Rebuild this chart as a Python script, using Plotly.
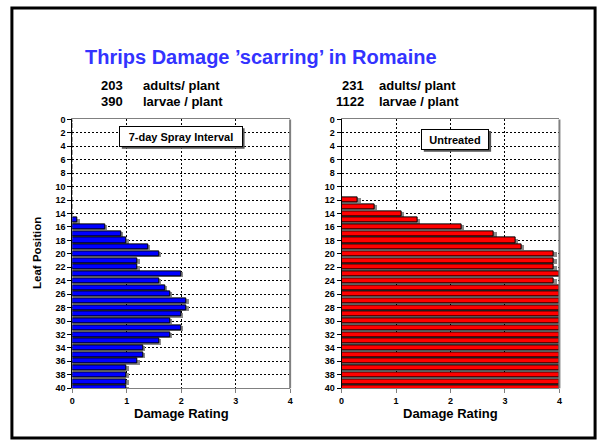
import plotly.graph_objects as go

# ---- data ----
leaf_positions = list(range(0, 41))
spray_7day = [0]*15 + [0.1, 0.6, 0.9, 1.0, 1.4, 1.6, 1.2, 1.2, 2.0, 1.6, 1.7, 1.8, 2.1, 2.1, 2.0,
                      1.8, 2.0, 1.8, 1.6, 1.3, 1.3, 1.2, 1.0, 1.0, 1.0, 1.0]
untreated = [0]*12 + [0.3, 0.6, 1.1, 1.4, 2.2, 2.8, 3.2, 3.3, 3.9, 3.9, 3.9, 4.0, 3.9,
                      4.0, 4.0, 4.0, 4.0, 4.0, 4.0, 4.0, 4.0, 4.0, 4.0, 4.0, 4.0, 4.0, 4.0, 4.0, 4.0]
y_ticks = list(range(0, 41, 2))
x_ticks = [0, 1, 2, 3, 4]
title_text = "Thrips Damage \u2019scarring\u2019 in Romaine"
left_counts = ["203", "390"]
right_counts = ["231", "1122"]
count_labels = ["adults/ plant", "larvae / plant"]
panel_labels = ["7-day Spray Interval", "Untreated"]

W, H = 606, 446
FONT = "Liberation Sans, Arial, sans-serif"
BAR_W = 0.75

def px(x):
    return x / W

def py(y):
    return 1 - y / H

fig = go.Figure()

for vals, color, xa, ya in [(spray_7day, "#0000ff", "x", "y"), (untreated, "#ff0000", "x2", "y2")]:
    # drop shadow
    fig.add_trace(go.Bar(x=[v + 0.04 if v > 0 else 0 for v in vals], y=leaf_positions, orientation="h",
                         width=BAR_W, offset=-BAR_W / 2 + 0.18,
                         marker=dict(color="#8a8a8a", line=dict(width=0)),
                         xaxis=xa, yaxis=ya, showlegend=False, hoverinfo="skip"))
    fig.add_trace(go.Bar(x=vals, y=leaf_positions, orientation="h", width=BAR_W, offset=-BAR_W / 2,
                         marker=dict(color=color, line=dict(color="black", width=1)),
                         xaxis=xa, yaxis=ya, showlegend=False))

xd1 = [px(70), px(290)]
xd2 = [px(342), px(562)]
yd = [py(392), py(117)]

tickfont = dict(family=FONT, size=9, color="black", weight="bold")
DASH = "2px,2px"

def xaxis_cfg(dom, anchor):
    return dict(domain=dom, anchor=anchor, range=[0, 4], tickvals=x_ticks,
                showgrid=True, gridcolor="black", griddash=DASH, gridwidth=1,
                zeroline=False, showline=True, linecolor="#808080", linewidth=1, mirror=True,
                ticks="outside", ticklen=4, tickcolor="#808080", tickfont=tickfont, fixedrange=True)

def yaxis_cfg(anchor):
    return dict(domain=yd, anchor=anchor, range=[40, 0], tickvals=y_ticks,
                showgrid=True, gridcolor="black", griddash=DASH, gridwidth=1,
                zeroline=False, showline=True, linecolor="black", linewidth=1,
                ticks="outside", ticklen=4, tickcolor="black", tickfont=tickfont, fixedrange=True)

fig.update_layout(
    width=W, height=H, margin=dict(l=0, r=0, t=0, b=0),
    paper_bgcolor="white", plot_bgcolor="white",
    xaxis=xaxis_cfg(xd1, "y"), yaxis=yaxis_cfg("x"),
    xaxis2=xaxis_cfg(xd2, "y2"), yaxis2=yaxis_cfg("x2"),
    barmode="overlay", bargap=0,
)

shapes = []
# outer slide frame
shapes.append(dict(type="rect", xref="paper", yref="paper", x0=px(9), x1=px(598), y0=py(443), y1=py(3),
                   line=dict(color="black", width=3)))
# right plot borders (gray)
for xr in ["x domain", "x2 domain"]:
    yr = "y domain" if xr == "x domain" else "y2 domain"
    shapes.append(dict(type="line", xref=xr, yref=yr, x0=1, x1=1, y0=0, y1=1,
                       line=dict(color="#808080", width=2)))
# label box shadows
shapes.append(dict(type="rect", xref="paper", yref="paper", x0=px(120), x1=px(244), y0=py(147), y1=py(126),
                   fillcolor="#555555", line=dict(width=0), layer="above"))
shapes.append(dict(type="rect", xref="paper", yref="paper", x0=px(425), x1=px(493), y0=py(150), y1=py(129),
                   fillcolor="#555555", line=dict(width=0), layer="above"))
fig.update_layout(shapes=shapes)

ann = []
ann.append(dict(text="<b>" + title_text + "</b>", x=px(261), y=py(53), xref="paper", yref="paper",
                showarrow=False, font=dict(family=FONT, size=20, color="#3333ff"), xanchor="center", yanchor="middle"))
for i, (n, lab) in enumerate(zip(left_counts, count_labels)):
    yy = py(82 + 17 * i)
    ann.append(dict(text="<b>" + n + "</b>", x=px(123), y=yy, xref="paper", yref="paper", showarrow=False,
                    xanchor="right", yanchor="middle", font=dict(family=FONT, size=13, color="black")))
    ann.append(dict(text="<b>" + lab + "</b>", x=px(139), y=yy, xref="paper", yref="paper", showarrow=False,
                    xanchor="left", yanchor="middle", font=dict(family=FONT, size=13, color="black")))
for i, (n, lab) in enumerate(zip(right_counts, count_labels)):
    yy = py(82 + 17 * i)
    ann.append(dict(text="<b>" + n + "</b>", x=px(367), y=yy, xref="paper", yref="paper", showarrow=False,
                    xanchor="right", yanchor="middle", font=dict(family=FONT, size=13, color="black")))
    ann.append(dict(text="<b>" + lab + "</b>", x=px(378), y=yy, xref="paper", yref="paper", showarrow=False,
                    xanchor="left", yanchor="middle", font=dict(family=FONT, size=13, color="black")))
# panel label boxes
ann.append(dict(text="<b>" + panel_labels[0] + "</b>", x=px(180), y=py(134.5), xref="paper", yref="paper",
                showarrow=False, xanchor="center", yanchor="middle", width=118, height=15,
                bgcolor="white", bordercolor="black", borderwidth=1, borderpad=2,
                font=dict(family=FONT, size=11, color="black")))
ann.append(dict(text="<b>" + panel_labels[1] + "</b>", x=px(457), y=py(137.5), xref="paper", yref="paper",
                showarrow=False, xanchor="center", yanchor="middle", width=62, height=15,
                bgcolor="white", bordercolor="black", borderwidth=1, borderpad=2,
                font=dict(family=FONT, size=11, color="black")))
# axis titles
for cx in [180, 452]:
    ann.append(dict(text="<b>Damage Rating</b>", x=px(cx), y=py(418), xref="paper", yref="paper", showarrow=False,
                    xanchor="center", yanchor="middle", font=dict(family=FONT, size=13, color="black")))
ann.append(dict(text="<b>Leaf Position</b>", x=px(35), y=py(254), xref="paper", yref="paper", showarrow=False,
                textangle=-90, xanchor="center", yanchor="middle", font=dict(family=FONT, size=11.5, color="black")))
fig.update_layout(annotations=ann)

fig.write_html("out.html", config={"displayModeBar": False},
               post_script="document.body.style.margin='0';document.body.style.overflow='hidden';")
